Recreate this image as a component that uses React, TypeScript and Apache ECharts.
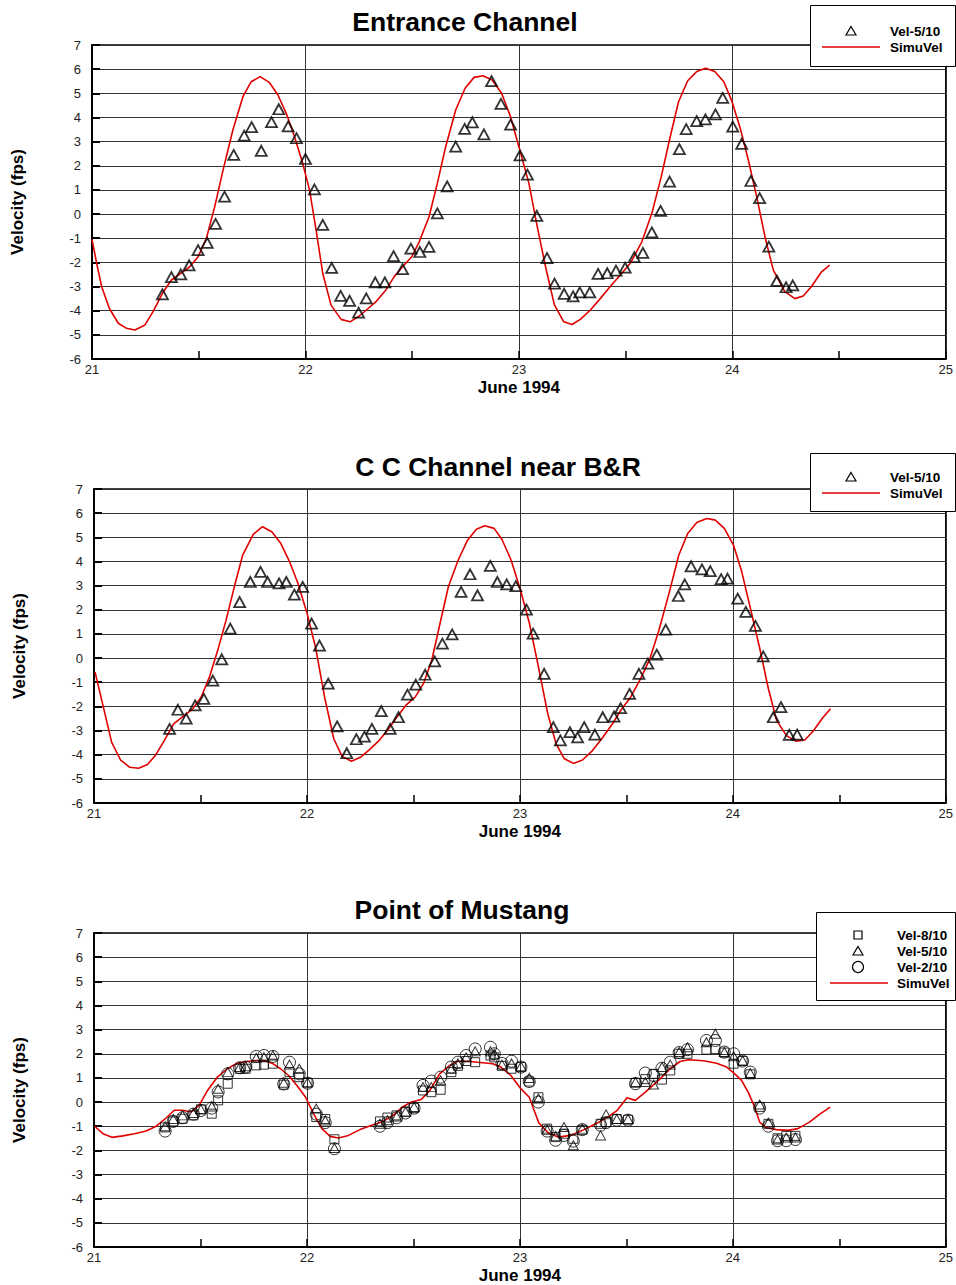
import React, { useEffect, useRef } from 'react';
import * as echarts from 'echarts';

const FONT = 'Arial, "Liberation Sans", Helvetica, sans-serif';

const TITLES = ['Entrance Channel', 'C C Channel near B&R', 'Point of Mustang'];
const X_NAME = 'June 1994';
const Y_NAME = 'Velocity (fps)';
const SIM_NAME = 'SimuVel';
const VEL8_NAME = 'Vel-8/10';
const VEL5_NAME = 'Vel-5/10';
const VEL2_NAME = 'Vel-2/10';

// Entrance Channel — observed Vel-5/10 [day, fps]
const entranceObs = [
  [21.33, -3.32], [21.372, -2.61], [21.416, -2.5], [21.455, -2.12], [21.497, -1.49], [21.54, -1.19],
  [21.579, -0.41], [21.621, 0.72], [21.664, 2.45], [21.713, 3.25], [21.748, 3.6], [21.793, 2.62],
  [21.841, 3.81], [21.875, 4.34], [21.919, 3.63], [21.958, 3.14], [22.0, 2.28], [22.042, 1.02],
  [22.081, -0.45], [22.123, -2.23], [22.165, -3.39], [22.207, -3.59], [22.249, -4.08], [22.285, -3.49],
  [22.327, -2.83], [22.372, -2.83], [22.413, -1.74], [22.455, -2.28], [22.494, -1.43], [22.536, -1.57],
  [22.579, -1.36], [22.618, 0.03], [22.664, 1.15], [22.704, 2.79], [22.746, 3.53], [22.782, 3.8],
  [22.836, 3.3], [22.872, 5.5], [22.916, 4.56], [22.961, 3.7], [23.005, 2.43], [23.04, 1.63],
  [23.084, -0.07], [23.132, -1.82], [23.167, -2.88], [23.212, -3.3], [23.254, -3.41], [23.285, -3.24],
  [23.332, -3.24], [23.371, -2.48], [23.414, -2.45], [23.455, -2.34], [23.498, -2.22], [23.541, -1.78],
  [23.581, -1.61], [23.623, -0.76], [23.664, 0.13], [23.706, 1.34], [23.752, 2.69], [23.784, 3.52],
  [23.833, 3.85], [23.874, 3.92], [23.921, 4.13], [23.955, 4.81], [24.002, 3.62], [24.044, 2.91],
  [24.087, 1.37], [24.128, 0.66], [24.171, -1.35], [24.209, -2.76], [24.252, -3.03], [24.283, -2.95],
];

// Entrance Channel — simulated SimuVel
const entranceSim = [
  [21.0, -1.05], [21.022, -2.04], [21.045, -3.0], [21.081, -3.9], [21.123, -4.52], [21.162, -4.73],
  [21.201, -4.8], [21.248, -4.59], [21.286, -4.04], [21.33, -3.28], [21.372, -2.73], [21.411, -2.48],
  [21.458, -2.18], [21.497, -1.77], [21.536, -1.0], [21.575, 0.31], [21.614, 1.82], [21.66, 3.48],
  [21.707, 4.86], [21.746, 5.48], [21.788, 5.69], [21.832, 5.44], [21.871, 4.93], [21.91, 4.17],
  [21.949, 3.2], [21.987, 2.1], [22.019, 1.0], [22.05, -0.66], [22.081, -2.45], [22.12, -3.77],
  [22.167, -4.36], [22.209, -4.46], [22.252, -4.22], [22.291, -3.93], [22.333, -3.6], [22.377, -3.14],
  [22.416, -2.59], [22.455, -2.18], [22.498, -1.77], [22.533, -1.15], [22.579, -0.11], [22.618, 1.27],
  [22.657, 2.79], [22.704, 4.31], [22.748, 5.21], [22.79, 5.66], [22.832, 5.73], [22.875, 5.55],
  [22.919, 5.0], [22.961, 4.03], [23.0, 2.79], [23.047, 1.27], [23.086, -0.52], [23.125, -2.18],
  [23.166, -3.75], [23.21, -4.46], [23.249, -4.57], [23.288, -4.36], [23.335, -3.97], [23.382, -3.49],
  [23.428, -3.0], [23.475, -2.52], [23.522, -2.04], [23.576, -1.15], [23.623, 0.03], [23.667, 1.55],
  [23.709, 3.2], [23.748, 4.65], [23.791, 5.52], [23.833, 5.9], [23.875, 6.04], [23.918, 5.9],
  [23.96, 5.48], [23.996, 4.72], [24.035, 3.62], [24.075, 2.24], [24.114, 0.72], [24.153, -0.94],
  [24.192, -2.32], [24.246, -3.21], [24.293, -3.5], [24.332, -3.39], [24.371, -3.0], [24.418, -2.39],
  [24.456, -2.11],
];

// C C Channel near B&R — observed Vel-5/10
const ccObs = [
  [21.355, -2.93], [21.394, -2.14], [21.433, -2.51], [21.475, -1.96], [21.516, -1.69], [21.558, -0.93],
  [21.6, -0.05], [21.64, 1.22], [21.684, 2.32], [21.734, 3.15], [21.782, 3.57], [21.815, 3.15],
  [21.869, 3.09], [21.903, 3.15], [21.941, 2.63], [21.98, 2.95], [22.022, 1.43], [22.059, 0.52],
  [22.1, -1.06], [22.142, -2.83], [22.187, -3.94], [22.232, -3.36], [22.27, -3.25], [22.305, -2.93],
  [22.349, -2.2], [22.391, -2.93], [22.43, -2.45], [22.472, -1.51], [22.511, -1.1], [22.555, -0.69],
  [22.6, -0.14], [22.636, 0.6], [22.682, 0.98], [22.724, 2.74], [22.766, 3.47], [22.801, 2.6],
  [22.861, 3.82], [22.894, 3.15], [22.938, 3.05], [22.981, 2.98], [23.031, 2.01], [23.062, 1.01],
  [23.114, -0.65], [23.157, -2.86], [23.19, -3.41], [23.235, -3.07], [23.271, -3.28], [23.302, -2.86],
  [23.352, -3.17], [23.389, -2.45], [23.442, -2.42], [23.473, -2.07], [23.515, -1.48], [23.559, -0.65],
  [23.601, -0.23], [23.643, 0.14], [23.685, 1.18], [23.744, 2.57], [23.774, 3.05], [23.804, 3.8],
  [23.855, 3.67], [23.894, 3.6], [23.945, 3.27], [23.975, 3.29], [24.023, 2.46], [24.061, 1.91],
  [24.106, 1.33], [24.143, 0.07], [24.19, -2.45], [24.226, -2.03], [24.265, -3.18], [24.302, -3.17],
];

// C C Channel near B&R — simulated SimuVel
const ccSim = [
  [21.005, -0.58], [21.044, -2.03], [21.083, -3.49], [21.125, -4.22], [21.168, -4.52], [21.21, -4.56],
  [21.251, -4.41], [21.29, -4.01], [21.332, -3.39], [21.374, -2.72], [21.417, -2.42], [21.464, -2.1],
  [21.503, -1.62], [21.542, -0.79], [21.581, 0.32], [21.62, 1.56], [21.659, 2.95], [21.698, 4.26],
  [21.748, 5.12], [21.791, 5.44], [21.835, 5.23], [21.877, 4.75], [21.919, 3.98], [21.958, 3.09],
  [22.001, 1.84], [22.04, 0.46], [22.083, -1.62], [22.126, -3.34], [22.165, -4.07], [22.209, -4.27],
  [22.251, -4.11], [22.294, -3.79], [22.336, -3.44], [22.38, -2.97], [22.422, -2.45], [22.464, -1.96],
  [22.508, -1.62], [22.547, -1.06], [22.586, -0.1], [22.625, 1.43], [22.664, 2.95], [22.71, 4.05],
  [22.754, 4.88], [22.796, 5.33], [22.835, 5.48], [22.879, 5.37], [22.916, 4.91], [22.959, 4.05],
  [23.003, 2.81], [23.045, 1.43], [23.084, -0.23], [23.131, -2.31], [23.17, -3.55], [23.209, -4.17],
  [23.252, -4.36], [23.294, -4.22], [23.341, -3.83], [23.388, -3.3], [23.435, -2.72], [23.473, -2.17],
  [23.52, -1.62], [23.567, -0.85], [23.611, -0.02], [23.653, 1.15], [23.7, 2.67], [23.746, 4.26],
  [23.788, 5.16], [23.832, 5.62], [23.879, 5.78], [23.918, 5.71], [23.96, 5.37], [24.003, 4.68],
  [24.042, 3.57], [24.081, 2.12], [24.125, 0.46], [24.167, -1.27], [24.206, -2.59], [24.252, -3.21],
  [24.296, -3.44], [24.338, -3.39], [24.377, -3.03], [24.424, -2.45], [24.459, -2.1],
];

// Point of Mustang — observation times (days) and three depths
const mustangDays = [
  21.334, 21.372, 21.416, 21.467, 21.502, 21.553, 21.583, 21.628, 21.684, 21.712,
  21.762, 21.798, 21.84, 21.891, 21.918, 21.964, 22.003, 22.044, 22.086, 22.129,
  22.343, 22.378, 22.421, 22.463, 22.503, 22.545, 22.584, 22.628, 22.678, 22.709,
  22.748, 22.79, 22.862, 22.88, 22.916, 22.961, 23.005, 23.044, 23.087, 23.128,
  23.168, 23.207, 23.251, 23.293, 23.379, 23.405, 23.455, 23.508, 23.543, 23.589,
  23.628, 23.667, 23.706, 23.748, 23.787, 23.876, 23.918, 23.96, 24.004, 24.046,
  24.082, 24.126, 24.167, 24.21, 24.251, 24.294,
];
const mustangVel8 = [
  -1.05, -0.8, -0.69, -0.55, -0.3, -0.48, 0.07, 0.76, 1.38, 1.38,
  1.52, 1.55, 1.59, 0.72, 1.24, 1.03, 0.8, -0.62, -0.7, -1.54,
  -0.8, -0.64, -0.55, -0.4, -0.25, 0.48, 0.41, 0.51, 1.24, 1.5,
  1.7, 1.65, 1.93, 1.85, 1.5, 1.38, 1.45, 0.85, 0.2, -1.1,
  -1.45, -1.31, -1.52, -1.15, -0.9, -0.83, -0.7, -0.73, 0.8, 0.95,
  1.17, 0.93, 1.31, 2.0, 2.0, 2.17, 2.2, 2.05, 1.59, 1.7,
  1.15, -0.2, -0.9, -1.5, -1.4, -1.4,
];
const mustangVel5 = [
  -1.0, -0.7, -0.55, -0.45, -0.3, -0.18, 0.55, 1.24, 1.45, 1.48,
  1.83, 1.86, 1.93, 0.8, 1.55, 1.38, 0.82, -0.27, -0.76, -1.9,
  -0.9, -0.75, -0.6, -0.4, -0.2, 0.62, 0.62, 0.9, 1.38, 1.6,
  1.85, 2.1, 2.1, 2.0, 1.55, 1.6, 1.48, 1.0, 0.15, -1.15,
  -1.4, -1.03, -1.79, -1.1, -1.38, -0.51, -0.7, -0.7, 0.83, 0.83,
  0.73, 1.45, 1.55, 2.07, 2.27, 2.48, 2.83, 2.07, 1.9, 1.72,
  1.2, -0.1, -0.85, -1.55, -1.47, -1.47,
];
const mustangVel2 = [
  -1.2, -0.8, -0.65, -0.5, -0.35, -0.25, 0.42, 1.17, 1.42, 1.45,
  1.89, 1.93, 1.89, 0.75, 1.65, 1.17, 0.78, -0.5, -0.85, -1.93,
  -1.0, -0.85, -0.65, -0.45, -0.25, 0.69, 0.87, 1.03, 1.45, 1.65,
  1.93, 2.2, 2.27, 2.0, 1.6, 1.69, 1.45, 0.85, 0.0, -1.2,
  -1.58, -1.38, -1.62, -1.14, -0.96, -0.85, -0.75, -0.75, 0.76, 1.2,
  1.1, 1.4, 1.65, 2.05, 2.17, 2.55, 2.55, 2.07, 2.0, 1.7,
  1.24, -0.25, -1.0, -1.6, -1.6, -1.55,
];

// Point of Mustang — simulated SimuVel
const mustangSim = [
  [21.003, -1.0], [21.042, -1.31], [21.084, -1.46], [21.136, -1.4], [21.19, -1.31], [21.245, -1.2],
  [21.292, -1.0], [21.335, -0.69], [21.377, -0.34], [21.416, -0.34], [21.455, -0.41], [21.494, -0.14],
  [21.533, 0.48], [21.579, 1.03], [21.626, 1.38], [21.673, 1.61], [21.72, 1.68], [21.759, 1.72],
  [21.798, 1.72], [21.836, 1.61], [21.876, 1.38], [21.914, 1.1], [21.953, 0.69], [21.993, 0.21],
  [22.031, -0.48], [22.07, -1.1], [22.109, -1.42], [22.148, -1.49], [22.195, -1.38], [22.249, -1.14],
  [22.304, -0.96], [22.358, -0.8], [22.405, -0.55], [22.452, -0.18], [22.491, 0.0], [22.537, 0.11],
  [22.577, 0.48], [22.623, 1.17], [22.67, 1.52], [22.709, 1.69], [22.756, 1.69], [22.802, 1.65],
  [22.872, 1.59], [22.911, 1.45], [22.958, 1.1], [23.0, 0.6], [23.044, 0.2], [23.089, -0.86],
  [23.134, -1.28], [23.18, -1.45], [23.238, -1.38], [23.301, -1.14], [23.363, -0.87], [23.425, -0.55],
  [23.457, -0.34], [23.503, 0.18], [23.542, 0.07], [23.589, 0.41], [23.651, 0.9], [23.706, 1.38],
  [23.752, 1.68], [23.791, 1.75], [23.862, 1.71], [23.924, 1.61], [23.971, 1.45], [24.009, 1.17],
  [24.041, 0.9], [24.072, 0.41], [24.103, -0.21], [24.126, -0.83], [24.157, -1.06], [24.204, -1.14],
  [24.259, -1.17], [24.306, -1.1], [24.36, -0.83], [24.407, -0.51], [24.457, -0.21],
];

// legend entries per panel: [label, marker kind]
const legendEntries1 = [[VEL5_NAME, 'triangle'], [SIM_NAME, 'line']];
const legendEntries2 = [[VEL5_NAME, 'triangle'], [SIM_NAME, 'line']];
const legendEntries3 = [[VEL8_NAME, 'rect'], [VEL5_NAME, 'triangle'], [VEL2_NAME, 'circle'], [SIM_NAME, 'line']];

const X_MIN = 21;
const X_MAX = 25;
const Y_MIN = -6;
const Y_MAX = 7;

const RED = '#e00000';

const zip = (xs: number[], ys: number[]) => xs.map((x, i) => [x, ys[i]]);

const GRIDS = [
  { left: 92, top: 45 },
  { left: 94, top: 489 },
  { left: 94, top: 933 },
];
const TITLE_POS = [
  [465, 22],
  [498, 467],
  [462, 910],
];
// legend box layout
const LEGEND_BOXES = [
  { x: 810, y: 5, w: 145, h: 61, row0: 31, iconX: 851, lx0: 822, lx1: 880, tx: 890, entries: legendEntries1 },
  { x: 810, y: 453, w: 145, h: 58, row0: 477, iconX: 851, lx0: 822, lx1: 880, tx: 890, entries: legendEntries2 },
  { x: 816, y: 912, w: 139, h: 88, row0: 935, iconX: 858, lx0: 830, lx1: 888, tx: 897, entries: legendEntries3 },
];

function legendGraphics() {
  const out: any[] = [];
  const Z = 100;
  LEGEND_BOXES.forEach((b) => {
    out.push({
      type: 'rect',
      z: Z,
      shape: { x: b.x + 0.5, y: b.y + 0.5, width: b.w, height: b.h },
      style: { fill: '#fff', stroke: '#000', lineWidth: 1 },
    });
    b.entries.forEach(([label, kind], i) => {
      const cy = b.row0 + i * 16;
      const cx = b.iconX;
      const stroke = { fill: 'none', stroke: '#000', lineWidth: 1.2 };
      if (kind === 'triangle') {
        out.push({
          type: 'polygon',
          z: Z + 1,
          shape: { points: [[cx, cy - 4.5], [cx + 5, cy + 4], [cx - 5, cy + 4]] },
          style: stroke,
        });
      } else if (kind === 'rect') {
        out.push({ type: 'rect', z: Z + 1, shape: { x: cx - 4, y: cy - 4, width: 8, height: 8 }, style: stroke });
      } else if (kind === 'circle') {
        out.push({ type: 'circle', z: Z + 1, shape: { cx, cy, r: 5.5 }, style: stroke });
      } else {
        out.push({
          type: 'line',
          z: Z + 1,
          shape: { x1: b.lx0, y1: cy, x2: b.lx1, y2: cy },
          style: { stroke: RED, lineWidth: 1.6 },
        });
      }
      out.push({
        type: 'text',
        z: Z + 1,
        x: b.tx,
        y: cy,
        style: {
          text: label,
          fontFamily: FONT,
          fontSize: 13.5,
          fontWeight: 'bold',
          fill: '#000',
          align: 'left',
          verticalAlign: 'middle',
        },
      });
    });
  });
  return out;
}

function buildOption() {
  const grid = GRIDS.map((g) => ({
    left: g.left,
    top: g.top,
    width: 856,
    height: 314,
    show: true,
    backgroundColor: '#fff',
    borderColor: '#000',
    borderWidth: 1.5,
  }));

  const xAxis = GRIDS.map((_, i) => ({
    type: 'value',
    gridIndex: i,
    min: X_MIN,
    max: X_MAX,
    interval: 1,
    name: X_NAME,
    nameLocation: 'middle',
    nameGap: 20,
    nameTextStyle: { fontFamily: FONT, fontSize: 17, fontWeight: 'bold', color: '#000' },
    axisLine: { show: true, onZero: false, lineStyle: { color: '#000', width: 2 } },
    axisTick: { show: true, inside: true, length: 8, lineStyle: { color: '#000', width: 1.5 } },
    minorTick: { show: true, splitNumber: 2, length: 8, lineStyle: { color: '#000', width: 1.5 } },
    splitLine: { show: true, lineStyle: { color: '#333', width: 1 } },
    axisLabel: { fontFamily: FONT, fontSize: 13, color: '#222', margin: 4 },
  }));

  const yAxis = GRIDS.map((_, i) => ({
    type: 'value',
    gridIndex: i,
    min: Y_MIN,
    max: Y_MAX,
    interval: 1,
    name: Y_NAME,
    nameLocation: 'middle',
    nameGap: 66,
    nameTextStyle: { fontFamily: FONT, fontSize: 17, fontWeight: 'bold', color: '#000' },
    axisLine: { show: true, onZero: false, lineStyle: { color: '#000', width: 2 } },
    axisTick: { show: true, inside: true, length: 8, lineStyle: { color: '#000', width: 2 } },
    splitLine: { show: true, lineStyle: { color: '#333', width: 1 } },
    axisLabel: { fontFamily: FONT, fontSize: 13, color: '#222', margin: 11 },
  }));

  const hollow = (w: number) => ({ color: 'transparent', borderColor: '#000', borderWidth: w });
  const simLine = (idx: number, data: number[][]) => ({
    type: 'line',
    name: SIM_NAME,
    xAxisIndex: idx,
    yAxisIndex: idx,
    data,
    symbol: 'none',
    showSymbol: false,
    lineStyle: { color: RED, width: 1.6 },
    itemStyle: { color: RED },
    z: 2,
  });
  const tri = (idx: number, data: number[][], size: number[], w: number) => ({
    type: 'scatter',
    name: VEL5_NAME,
    xAxisIndex: idx,
    yAxisIndex: idx,
    data,
    symbol: 'triangle',
    symbolSize: size,
    itemStyle: hollow(w),
    z: 3,
  });

  const series = [
    simLine(0, entranceSim),
    tri(0, entranceObs, [11, 10], 1.8),
    simLine(1, ccSim),
    tri(1, ccObs, [11, 10], 1.8),
    simLine(2, mustangSim),
    {
      type: 'scatter',
      name: VEL8_NAME,
      xAxisIndex: 2,
      yAxisIndex: 2,
      data: zip(mustangDays, mustangVel8),
      symbol: 'rect',
      symbolSize: 9,
      itemStyle: hollow(1),
      z: 3,
    },
    tri(2, zip(mustangDays, mustangVel5), [10, 9], 1),
    {
      type: 'scatter',
      name: VEL2_NAME,
      xAxisIndex: 2,
      yAxisIndex: 2,
      data: zip(mustangDays, mustangVel2),
      symbol: 'circle',
      symbolSize: 12,
      itemStyle: hollow(1),
      z: 3,
    },
  ];

  const titles = TITLES.map((t, i) => ({
    type: 'text',
    x: TITLE_POS[i][0],
    y: TITLE_POS[i][1],
    z: 100,
    style: {
      text: t,
      fontFamily: FONT,
      fontSize: 26.5,
      fontWeight: 'bold',
      fill: '#000',
      align: 'center',
      verticalAlign: 'middle',
    },
  }));

  return {
    animation: false,
    backgroundColor: '#fff',
    grid,
    xAxis,
    yAxis,
    series,
    graphic: [...titles, ...legendGraphics()],
  };
}

export default function App() {
  const ref = useRef<HTMLDivElement>(null);
  useEffect(() => {
    if (!ref.current) return;
    const chart = echarts.init(ref.current, null, { renderer: 'svg' });
    chart.setOption(buildOption() as any);
    return () => chart.dispose();
  }, []);
  return (
    <div
      ref={ref}
      style={{ position: 'absolute', left: 0, top: 0, width: 956, height: 1285, background: '#fff' }}
    />
  );
}
